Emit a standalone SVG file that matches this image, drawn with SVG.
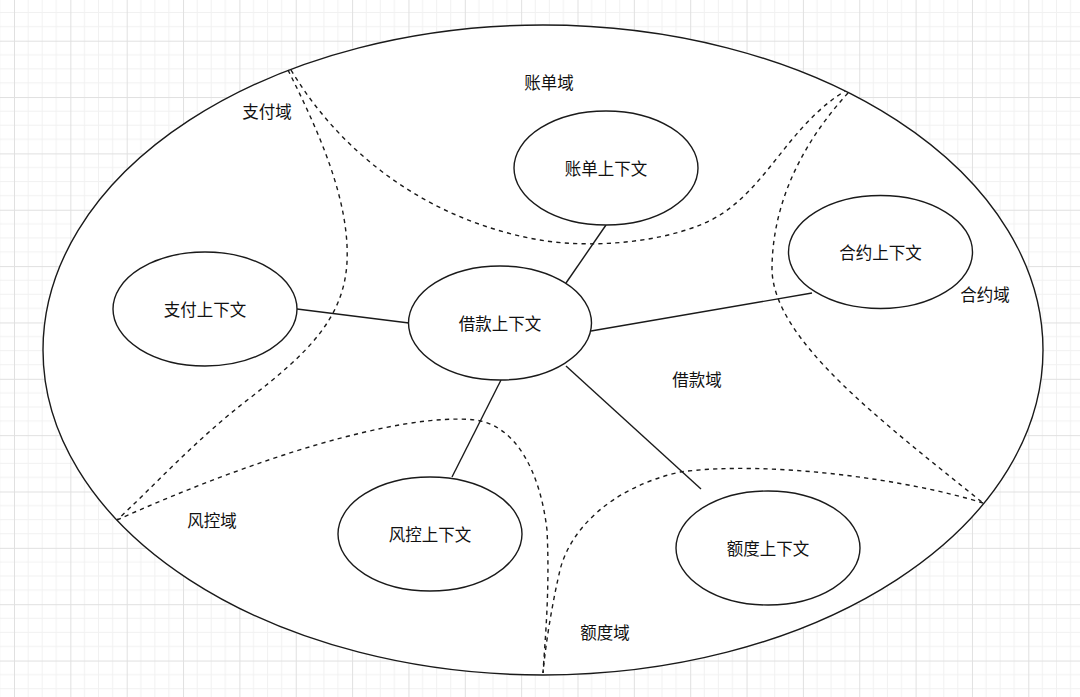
<svg xmlns="http://www.w3.org/2000/svg" width="1080" height="697" viewBox="0 0 1080 697">
<defs>
<pattern id="grid" x="14" y="40.7" width="56.35" height="56.35" patternUnits="userSpaceOnUse">
<path d="M14.09 0V56.35M28.18 0V56.35M42.26 0V56.35M0 14.09H56.35M0 28.18H56.35M0 42.26H56.35" stroke="#f1f1f1" stroke-width="1" fill="none"/>
<path d="M0.5 0V56.35M0 0.5H56.35" stroke="#e0e0e0" stroke-width="1" fill="none"/>
</pattern>
<style>
.ctx{fill:#fff;stroke:#1a1a1a;stroke-width:1.4}
.dash{fill:none;stroke:#1a1a1a;stroke-width:1.4;stroke-dasharray:4.2 4.2}
.link{fill:none;stroke:#1a1a1a;stroke-width:1.4}
.lbl{font-family:"Noto Sans CJK SC","Noto Sans",sans-serif;font-size:16.5px;fill:#111;text-anchor:middle;dominant-baseline:central}
</style>
</defs>
<rect width="1080" height="697" fill="#fff"/>
<rect width="1080" height="697" fill="url(#grid)"/>
<g id="domain-outer">
<ellipse cx="543" cy="350" rx="500" ry="325" fill="#fff" stroke="#1a1a1a" stroke-width="1.4"/>
</g>
<g id="boundaries">
<path class="dash" d="M288,70 C318,130 350,200 347,262 C344,320 305,355 250,398 C195,440 150,490 117,520"/>
<path class="dash" d="M291,70 C345,160 435,222 540,240 C600,250 680,240 720,215 C768,185 790,125 845,91"/>
<path class="dash" d="M848,93 C805,140 772,200 772,270 C774,340 880,420 983,503"/>
<path class="dash" d="M983,503 C910,480 770,460 680,472 C610,488 570,530 560,570 C553,600 546,640 543,673"/>
<path class="dash" d="M117,520 C250,460 400,412 475,420 C515,425 540,470 547,530 C550,590 545,640 543,673"/>
</g>
<g id="connectors">
<line class="link" x1="566" y1="283" x2="606" y2="225"/>
<line class="link" x1="591" y1="331" x2="812" y2="293"/>
<line class="link" x1="409" y1="323" x2="297" y2="309"/>
<line class="link" x1="501" y1="380" x2="452" y2="477"/>
<line class="link" x1="566" y1="366" x2="701" y2="489"/>
</g>
<g id="ctx-bill"><ellipse class="ctx" cx="606" cy="168" rx="92" ry="57"/><text class="lbl" x="606" y="168">账单上下文</text></g>
<g id="ctx-contract"><ellipse class="ctx" cx="880.5" cy="252" rx="92" ry="56.5"/><text class="lbl" x="880.5" y="252">合约上下文</text></g>
<g id="ctx-pay"><ellipse class="ctx" cx="205" cy="309" rx="92" ry="57"/><text class="lbl" x="205" y="309">支付上下文</text></g>
<g id="ctx-loan"><ellipse class="ctx" cx="500" cy="323" rx="91.5" ry="57"/><text class="lbl" x="500" y="323">借款上下文</text></g>
<g id="ctx-risk"><ellipse class="ctx" cx="430" cy="534" rx="92" ry="57"/><text class="lbl" x="430" y="534">风控上下文</text></g>
<g id="ctx-quota"><ellipse class="ctx" cx="768" cy="548" rx="92" ry="57"/><text class="lbl" x="768" y="548">额度上下文</text></g>
<g id="domain-labels">
<text class="lbl" x="549" y="82">账单域</text>
<text class="lbl" x="267" y="111">支付域</text>
<text class="lbl" x="985" y="294">合约域</text>
<text class="lbl" x="697" y="379">借款域</text>
<text class="lbl" x="212" y="520">风控域</text>
<text class="lbl" x="605" y="632">额度域</text>
</g>
</svg>
